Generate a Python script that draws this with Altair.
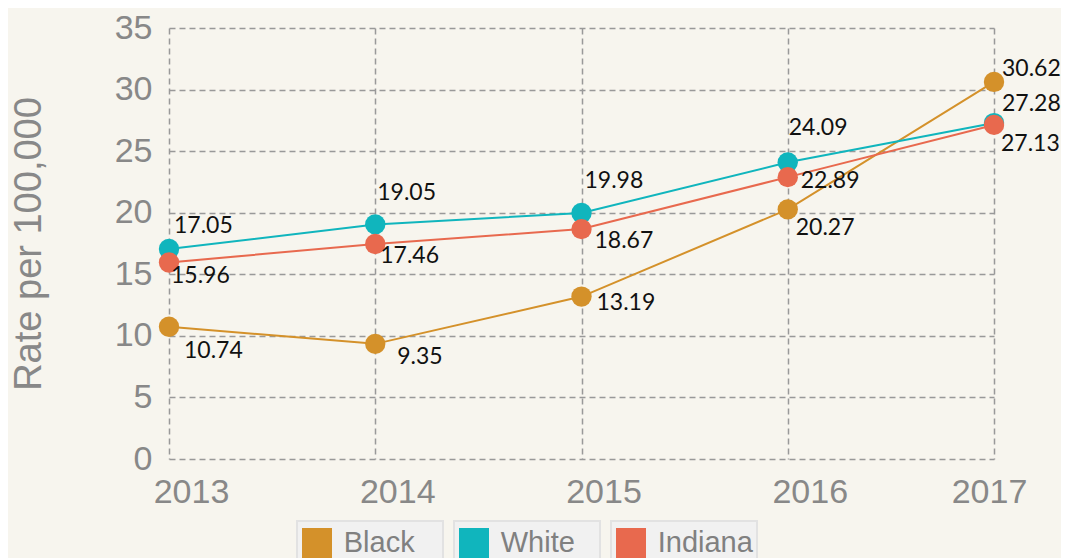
import altair as alt
import pandas as pd

# ---- data ----
years = ["2013", "2014", "2015", "2016", "2017"]
series = ["Black", "White", "Indiana"]
black = [10.74, 9.35, 13.19, 20.27, 30.62]
white = [17.05, 19.05, 19.98, 24.09, 27.28]
indiana = [15.96, 17.46, 18.67, 22.89, 27.13]
y_ticks = [0, 5, 10, 15, 20, 25, 30, 35]
colors = ["#d4912a", "#10b5bd", "#e8694e"]

rows = []
for s, vals in zip(series, [black, white, indiana]):
    for yr, v in zip(years, vals):
        rows.append({"year": yr, "series": s, "rate": v, "label": f"{v:.2f}"})
df = pd.DataFrame(rows)

# label placement (dx, dy) per point, mimicking the reference's label layout
LABEL_OFFSETS = {
    ("White", "2013"): (5, -23), ("White", "2014"): (2, -31), ("White", "2015"): (3, -32),
    ("White", "2016"): (1, -34), ("White", "2017"): (8, -19),
    ("Indiana", "2013"): (2, 14), ("Indiana", "2014"): (5, 12), ("Indiana", "2015"): (13, 12),
    ("Indiana", "2016"): (13, 4), ("Indiana", "2017"): (7, 19),
    ("Black", "2013"): (15, 24), ("Black", "2014"): (22, 13), ("Black", "2015"): (15, 6),
    ("Black", "2016"): (8, 19), ("Black", "2017"): (8, -13),
}

AXIS_FONT = "Liberation Sans"
GRAY = "#888888"

color = alt.Color("series:N", scale=alt.Scale(domain=series, range=colors), legend=None)
x_enc = alt.X(
    "year:O",
    sort=years,
    scale=alt.Scale(type="point", padding=0),
    axis=alt.Axis(
        title=None,
        labelAngle=0,
        labelPadding=16,
        grid=True,
        labelOffset={"condition": {"test": "datum.label == '2017'", "value": -5}, "value": 22},
    ),
)
y_enc = alt.Y(
    "rate:Q",
    scale=alt.Scale(domain=[0, 35], nice=False),
    axis=alt.Axis(values=y_ticks, title="Rate per 100,000", titlePadding=66, labelPadding=17, grid=True),
)

base = alt.Chart(df).encode(x=x_enc, y=y_enc, color=color)
lines = base.mark_line(strokeWidth=2)
points = base.mark_circle(size=415, opacity=1)

label_layers = []
for (s, yr), (dx, dy) in LABEL_OFFSETS.items():
    label_layers.append(
        alt.Chart(df)
        .transform_filter((alt.datum.series == s) & (alt.datum.year == yr))
        .mark_text(font="Lato", fontSize=23, color="#111111", align="left", baseline="middle", dx=dx, dy=dy)
        .encode(x=alt.X("year:O", sort=years), y="rate:Q", text="label:N")
    )

main = alt.layer(lines, points, *label_layers).properties(width=825, height=431)

# ---- legend drawn as boxed items ----
leg_df = pd.DataFrame({"series": series})
leg_scale = alt.Scale(type="band", domain=series, range=[128, 588], paddingInner=0.07, paddingOuter=0)
leg_base = alt.Chart(leg_df)
leg_box = leg_base.mark_rect(fill="#f1f1f1", stroke="#e2e2e2", strokeWidth=2).encode(
    x=alt.X("series:N", scale=leg_scale, axis=None)
)
leg_sq = leg_base.mark_point(shape="square", filled=True, size=900, opacity=1).encode(
    x=alt.X("series:N", scale=leg_scale, axis=None, bandPosition=0.137),
    color=color,
)
leg_txt = leg_base.mark_text(font=AXIS_FONT, fontSize=29, color="#808080", align="left", baseline="middle").encode(
    x=alt.X("series:N", scale=leg_scale, axis=None, bandPosition=0.32),
    text="series:N",
)
legend = alt.layer(leg_box, leg_sq, leg_txt).properties(width=600, height=44)

chart = (
    alt.vconcat(main, legend, spacing=11)
    .properties(padding={"left": 2, "top": 3, "right": 0, "bottom": 0})
    .configure(background="#f7f5ee")
    .configure_view(stroke=None)
    .configure_axis(
        domain=False,
        ticks=False,
        gridColor="#999999",
        gridDash=[6, 4],
        gridWidth=1.5,
        labelFont=AXIS_FONT,
        labelFontSize=34,
        labelColor=GRAY,
        titleFont=AXIS_FONT,
        titleFontSize=38,
        titleFontWeight="normal",
        titleColor=GRAY,
    )
)

chart.save("out.html", embed_options={"renderer": "svg", "actions": False})
